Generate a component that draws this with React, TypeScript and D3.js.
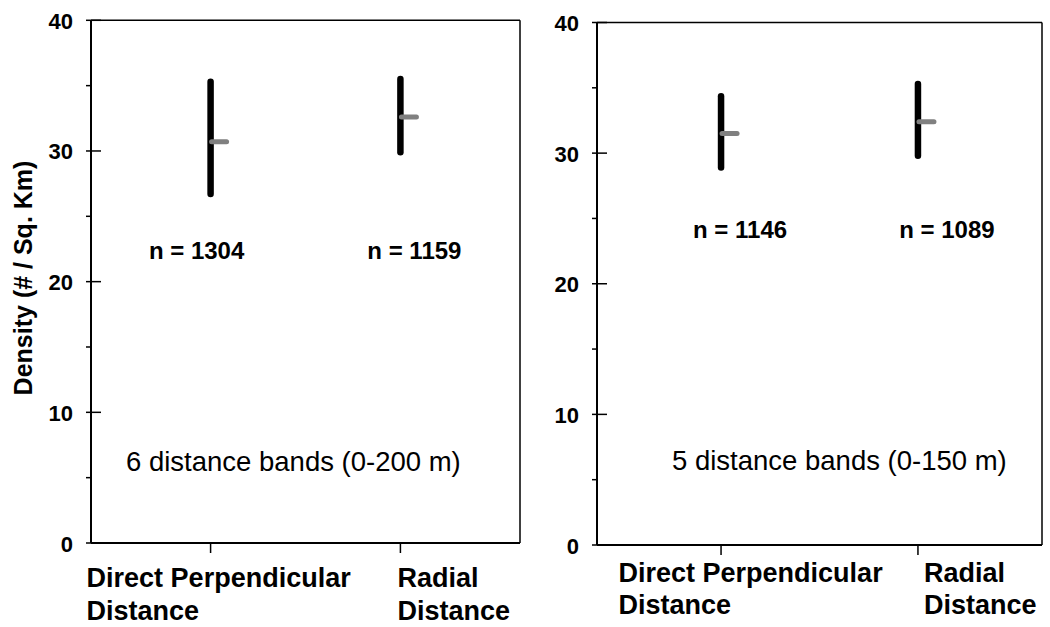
import React from "react";
import * as d3 from "d3";

// ---- Data ----
const categories = ["Direct Perpendicular Distance", "Radial Distance"];
const catLines = [["Direct Perpendicular", "Distance"], ["Radial", "Distance"]];

const leftLow = [26.7, 29.9];
const leftHigh = [35.3, 35.5];
const leftMean = [30.7, 32.6];
const leftN = [1304, 1159];

const rightLow = [28.9, 29.8];
const rightHigh = [34.35, 35.3];
const rightMean = [31.5, 32.4];
const rightN = [1146, 1089];

const majorTicks = [0, 10, 20, 30, 40];
const minorTicks = [5, 15, 25, 35];
const yTitle = "Density (# / Sq. Km)";
const leftNote = "6 distance bands (0-200 m)";
const rightNote = "5 distance bands (0-150 m)";

// ---- Layout (positions/styles) ----
const FONT = "'Liberation Sans', Arial, Helvetica, sans-serif";

type Panel = {
  x0: number; x1: number; yTop: number; yBot: number;
  low: number[]; high: number[]; mean: number[]; n: number[];
  nDx: number[]; nVal: number; note: string; noteDx: number; noteY: number;
  catDx: number[]; catY: number[];
};

const panels: Panel[] = [
  {
    x0: 91, x1: 520, yTop: 20.3, yBot: 543,
    low: leftLow, high: leftHigh, mean: leftMean, n: leftN,
    nDx: [-14, 14], nVal: 21.7, note: leftNote, noteDx: 35, noteY: 470.5,
    catDx: [-124, -3], catY: [587, 620],
  },
  {
    x0: 597, x1: 1042, yTop: 22.5, yBot: 545,
    low: rightLow, high: rightHigh, mean: rightMean, n: rightN,
    nDx: [19, 29], nVal: 23.5, note: rightNote, noteDx: 75, noteY: 470,
    catDx: [-102.5, 6], catY: [582, 614],
  },
];

function PanelView({ p }: { p: Panel }) {
  const x = d3.scalePoint<string>().domain(categories).range([p.x0, p.x1]).padding(0.63);
  const y = d3.scaleLinear().domain([0, 40]).range([p.yBot, p.yTop]);
  return (
    <g>
      {/* frame */}
      <line x1={p.x0} x2={p.x1} y1={p.yTop} y2={p.yTop} stroke="#000" strokeWidth={1.5} />
      <line x1={p.x1} x2={p.x1} y1={p.yTop} y2={p.yBot} stroke="#000" strokeWidth={1.5} />
      <line x1={p.x0} x2={p.x0} y1={p.yTop} y2={p.yBot} stroke="#000" strokeWidth={2} />
      <line x1={p.x0} x2={p.x1} y1={p.yBot} y2={p.yBot} stroke="#000" strokeWidth={2} />
      {/* y ticks */}
      {majorTicks.map((t) => (
        <g key={"M" + t}>
          <line x1={p.x0 - 5} x2={p.x0 + 10} y1={y(t)} y2={y(t)} stroke="#000" strokeWidth={1.5} />
          <text x={p.x0 - 18} y={y(t) + 1} textAnchor="end" dominantBaseline="central"
            fontFamily={FONT} fontWeight="bold" fontSize={22} fill="#000">{t}</text>
        </g>
      ))}
      {minorTicks.map((t) => (
        <line key={"m" + t} x1={p.x0 - 5} x2={p.x0} y1={y(t)} y2={y(t)} stroke="#000" strokeWidth={1.5} />
      ))}
      {/* x ticks & labels */}
      {categories.map((c, i) => (
        <g key={c}>
          <line x1={x(c)} x2={x(c)} y1={p.yBot} y2={p.yBot + 10} stroke="#000" strokeWidth={1.5} />
          {catLines[i].map((ln, j) => (
            <text key={j} x={(x(c) as number) + p.catDx[i]} y={p.catY[j]}
              fontFamily={FONT} fontWeight="bold" fontSize={27} fill="#000">{ln}</text>
          ))}
        </g>
      ))}
      {/* ranges */}
      {categories.map((c, i) => (
        <g key={"r" + c}>
          <line x1={x(c)} x2={x(c)} y1={y(p.low[i])} y2={y(p.high[i])}
            stroke="#000" strokeWidth={6.5} strokeLinecap="round" />
          <line x1={(x(c) as number) + 1} x2={(x(c) as number) + 16} y1={y(p.mean[i])} y2={y(p.mean[i])}
            stroke="#808080" strokeWidth={5} strokeLinecap="round" />
          <text x={(x(c) as number) + p.nDx[i]} y={y(p.nVal)} textAnchor="middle"
            fontFamily={FONT} fontWeight="bold" fontSize={24} fill="#000">{`n = ${p.n[i]}`}</text>
        </g>
      ))}
      <text x={p.x0 + p.noteDx} y={p.noteY} fontFamily={FONT} fontSize={27.5} fill="#000">{p.note}</text>
    </g>
  );
}

export default function App() {
  return (
    <svg width={1050} height={627} viewBox="0 0 1050 627"
      style={{ position: "absolute", left: 0, top: 0, background: "#fff" }}>
      <rect width={1050} height={627} fill="#fff" />
      {panels.map((p, i) => <PanelView key={i} p={p} />)}
      <text transform="translate(23,278) rotate(-90)" textAnchor="middle" dominantBaseline="central"
        fontFamily={FONT} fontWeight="bold" fontSize={25} fill="#000">{yTitle}</text>
    </svg>
  );
}
